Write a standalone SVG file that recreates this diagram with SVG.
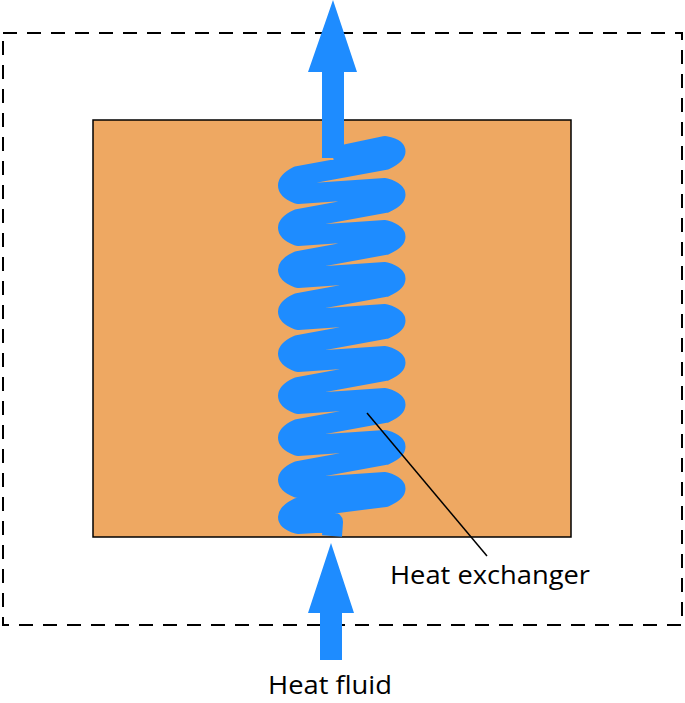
<svg xmlns="http://www.w3.org/2000/svg" width="685" height="703" viewBox="0 0 685 703">
<style>
.flow{fill:#1e8cff}
.lbl{font-family:"Open Sans","Liberation Sans",sans-serif;font-size:25px;fill:#000}
</style>
<rect width="685" height="703" fill="#fff"/>
<g id="boundary"><rect x="3" y="33" width="679" height="592" fill="none" stroke="#000" stroke-width="2" stroke-dasharray="14,10"/></g>
<g id="vessel"><rect x="93" y="120" width="478" height="417" fill="#eea862" stroke="#000" stroke-width="1.5"/></g>
<g id="coil">
<path d="M333,157 L385,146 Q406,150 385,160 L298,176 Q278,186 298,194 L385,188 Q406,194 385,203 L298,219 Q278,228 298,236 L385,230 Q406,236 385,245 L298,261 Q278,270 298,278 L385,272 Q406,278 385,287 L298,303 Q278,312 298,320 L385,314 Q406,320 385,329 L298,345 Q278,354 298,362 L385,356 Q406,362 385,371 L298,387 Q278,396 298,404 L385,398 Q406,404 385,413 L298,429 Q278,438 298,446 L385,440 Q406,446 385,455 L298,471 Q278,480 298,488 L385,482 Q406,488 385,497 L298,508 Q278,518 298,524 L333,522 L332,536" fill="none" stroke="#1e8cff" stroke-width="20" stroke-linejoin="round" stroke-linecap="butt"/>
</g>
<g id="connectors">
<polygon class="flow" points="333,0 357,72 344,72 344,158 322,158 322,72 308,72"/>
<polygon class="flow" points="331,543 354,613 342,613 342,660 320,660 320,613 308,613"/>
<line x1="367" y1="413" x2="487" y2="556" stroke="#000" stroke-width="1.5"/>
</g>
<g id="labels">
<text class="lbl" x="390" y="584" textLength="200" lengthAdjust="spacingAndGlyphs">Heat exchanger</text>
<text class="lbl" x="268" y="694" textLength="124" lengthAdjust="spacingAndGlyphs">Heat fluid</text>
</g>
</svg>
